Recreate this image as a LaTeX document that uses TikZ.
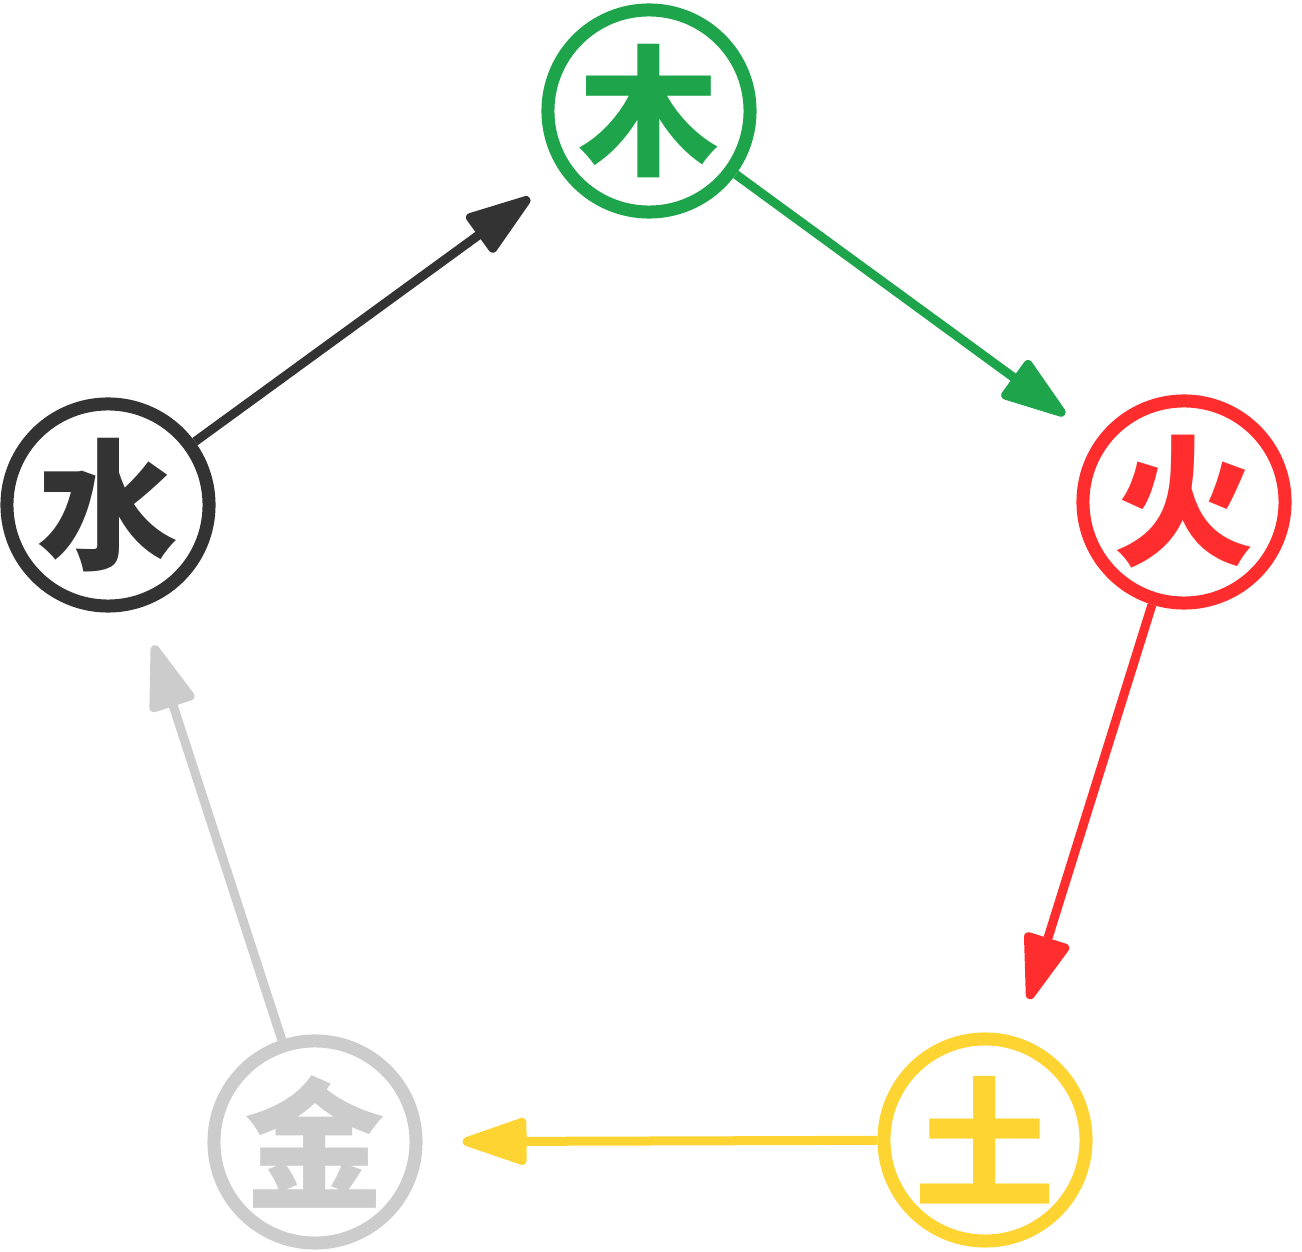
\documentclass[tikz,border=0pt]{standalone}
\usepackage{fontspec}
\newfontfamily\cjk{Noto Sans CJK SC}
\usetikzlibrary{arrows.meta}
\definecolor{woodgreen}{RGB}{30,165,75}
\definecolor{firered}{RGB}{255,45,45}
\definecolor{earthyellow}{RGB}{253,212,50}
\definecolor{metalgray}{RGB}{204,204,204}
\definecolor{waterblack}{RGB}{51,51,51}

\begin{document}
\begin{tikzpicture}[x=0.01cm, y=-0.01cm,
		  % Define the style of the element circles
		  element/.style={circle, draw=#1, text=#1, line width=0.13cm, minimum size=2.02cm, inner sep=0pt, font=\cjk\bfseries\fontsize{40}{40}\selectfont},
		  % Define the style of the arrow between elements
		  arrow/.style={draw=#1, fill=#1, line width=0.09cm, -{Triangle[length=0.74cm, width=0.48cm, round]}, shorten >=0.4cm}
		  ]
		  \useasboundingbox (0,0) rectangle (1302,1252);

		  % Element nodes
		  \foreach \name/\pos/\col/\char in {mu/{(649,111)}/woodgreen/木, huo/{(1184,502)}/firered/火, tu/{(985,1140)}/earthyellow/土, jin/{(315,1142)}/metalgray/金, shui/{(108,505)}/waterblack/水} {
		    \node[element=\col] (\name) at \pos {\char};
		  }

		  % Connect the nodes
		  \draw[arrow=woodgreen] (mu) -- (huo);
		  \draw[arrow=firered] (huo) -- (tu);
		  \draw[arrow=earthyellow] (tu) -- (jin);
		  \draw[arrow=metalgray] (jin) -- (shui);
		  \draw[arrow=waterblack] (shui) -- (mu);
		\end{tikzpicture}
\end{document}
